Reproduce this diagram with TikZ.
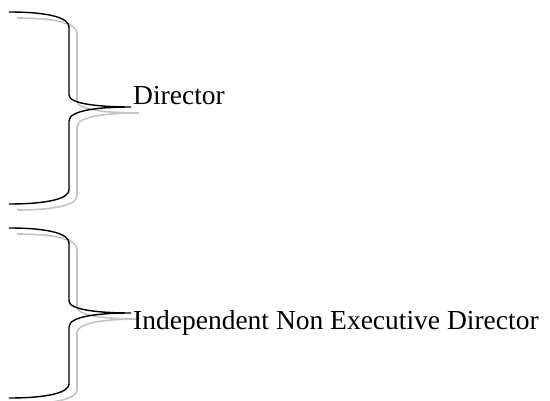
\documentclass[tikz,border=0pt]{standalone}
\usepackage{fontspec}
\setmainfont{Liberation Serif}
\usetikzlibrary{positioning}
\definecolor{Sombra}{HTML}{C4C4C4}
\tikzset{
  llave/.style={black,line width=1.4pt},
  sombra/.style={Sombra,line width=1.6pt,shift={(8,6)}},
  etiqueta/.style={anchor=base west,inner sep=0pt,font=\fontsize{27.5}{30}\selectfont}
}

\begin{document}
\begin{tikzpicture}[x=1pt,y=-1pt]
        \useasboundingbox (0,0) rectangle (550,401);
        % arriba / punta / abajo de cada llave
        \foreach \t/\m/\b [count=\i] in {12/107/204, 228/313/398} {
          \foreach \estilo in {sombra,llave} {
            \draw[\estilo] (9,\t) .. controls (50,\t) and (69,\t+6) .. (69,\t+15)
              -- (69,\m-12) .. controls (69,\m-3) and (100,\m) .. (131,\m)
              .. controls (100,\m) and (69,\m+3) .. (69,\m+14)
              -- (69,\b-14) .. controls (69,\b-6) and (50,\b) .. (9,\b);
          }
          \coordinate (punta\i) at (131,\m);
        }
        \node[etiqueta] (director) at (133,105) {Director};
        \node[etiqueta] (independiente) at (133,330) {Independent Non Executive Director};
      \end{tikzpicture}
\end{document}
